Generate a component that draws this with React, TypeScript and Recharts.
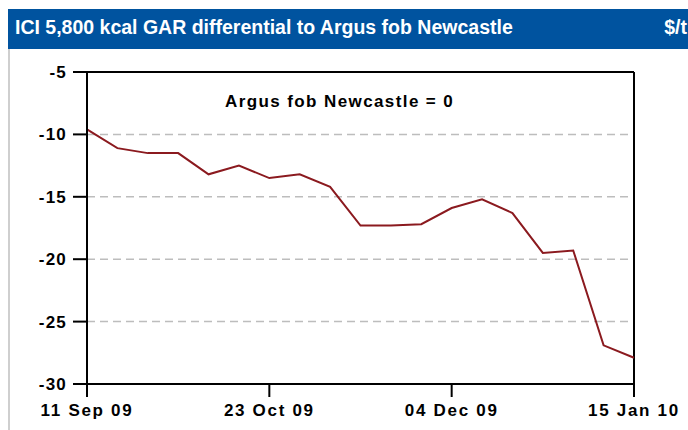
import { LineChart, Line, XAxis, YAxis, CartesianGrid, ReferenceLine } from 'recharts';

const DATES = [
  '11 Sep 09', '18 Sep 09', '25 Sep 09', '02 Oct 09', '09 Oct 09', '16 Oct 09', '23 Oct 09',
  '30 Oct 09', '06 Nov 09', '13 Nov 09', '20 Nov 09', '27 Nov 09', '04 Dec 09', '11 Dec 09',
  '18 Dec 09', '25 Dec 09', '01 Jan 10', '08 Jan 10', '15 Jan 10',
];
const DIFFERENTIAL = [
  -9.6, -11.1, -11.5, -11.5, -13.2, -12.5, -13.5, -13.2, -14.2, -17.3,
  -17.3, -17.2, -15.9, -15.2, -16.3, -19.5, -19.3, -26.9, -27.9,
];
const X_TICKS = ['11 Sep 09', '23 Oct 09', '04 Dec 09', '15 Jan 10'];
const Y_TICKS = [-5, -10, -15, -20, -25, -30];

const data = DATES.map((d, i) => ({ date: d, value: DIFFERENTIAL[i] }));

const FONT = '"Liberation Sans", Arial, sans-serif';
const tickStyle = { fill: '#000', fontSize: 17, fontWeight: 700, fontFamily: FONT, letterSpacing: 1.7 };

export default function App() {
  return (
    <div style={{ position: 'absolute', left: 0, top: 0, width: 688, height: 430, background: '#fff', overflow: 'hidden', fontFamily: FONT }}>
      {/* title bar */}
      <div style={{ position: 'absolute', left: 8, top: 9, width: 680, height: 40, background: '#00539f' }}>
        <span style={{ position: 'absolute', left: 7, top: 9, lineHeight: 1, color: '#fff', fontSize: 19.5, fontWeight: 700, whiteSpace: 'nowrap' }}>
          ICI 5,800 kcal GAR differential to Argus fob Newcastle
        </span>
        <span style={{ position: 'absolute', right: 1, top: 9, lineHeight: 1, color: '#fff', fontSize: 19.5, fontWeight: 700 }}>$/t</span>
      </div>
      {/* panel border */}
      <div style={{ position: 'absolute', left: 8, top: 49, width: 2, height: 381, background: '#cfcfcf' }} />

      <div style={{ position: 'absolute', left: 0, top: 0 }}>
        <LineChart width={688} height={430} data={data} margin={{ top: 72, right: 54, bottom: 16, left: 27 }}>
          <CartesianGrid vertical={false} stroke="#bdbdbd" strokeWidth={1.5} strokeDasharray="8 5" />
          <XAxis dataKey="date" ticks={X_TICKS} interval={0} height={30} tickSize={13}
            tickMargin={7} stroke="#000" strokeWidth={2} tick={tickStyle} />
          <YAxis type="number" domain={[-30, -5]} ticks={Y_TICKS} width={60} tickSize={14}
            tickMargin={6} stroke="#000" strokeWidth={2} tick={{ ...tickStyle, letterSpacing: 1.2 }} allowDataOverflow />
          <ReferenceLine y={-5} stroke="#000" strokeWidth={2} />
          <ReferenceLine x="15 Jan 10" stroke="#000" strokeWidth={2} />
          <Line dataKey="value" stroke="#8b1a1f" strokeWidth={2} dot={false} isAnimationActive={false} />
        </LineChart>
      </div>

      <div style={{ position: 'absolute', left: 225, top: 92, fontSize: 17, fontWeight: 700, letterSpacing: 1.4, color: '#000', whiteSpace: 'nowrap' }}>
        Argus fob Newcastle = 0
      </div>
    </div>
  );
}
